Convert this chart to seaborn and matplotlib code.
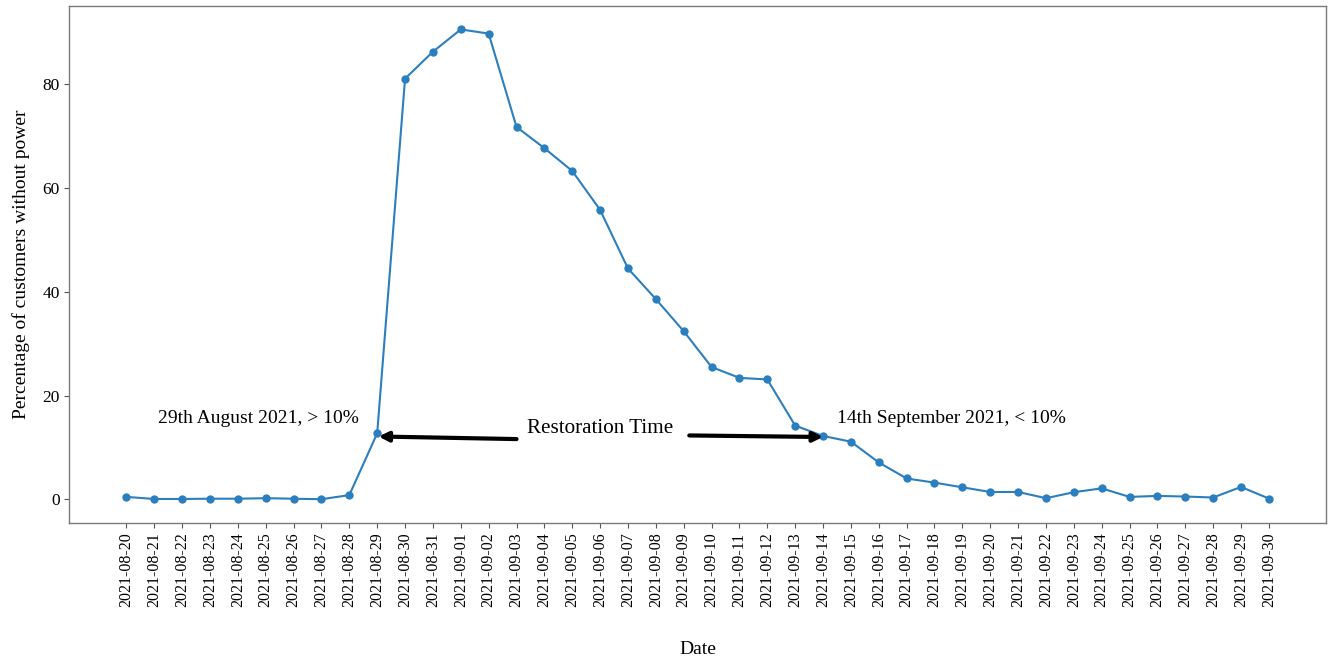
import pandas as pd
import matplotlib.pyplot as plt
import seaborn as sns

# Daily share of customers without power
dates = pd.date_range("2021-08-20", "2021-09-30").strftime("%Y-%m-%d").tolist()
pct_out = [
    0.45, 0.05, 0.05, 0.1, 0.1, 0.2, 0.1, 0.0, 0.8, 12.7,
    81.1, 86.3, 90.6, 89.8, 71.8, 67.7, 63.3, 55.8, 44.5, 38.6,
    32.4, 25.5, 23.4, 23.1, 14.2, 12.2, 11.1, 7.1, 4.0, 3.2,
    2.3, 1.4, 1.4, 0.2, 1.35, 2.1, 0.45, 0.64, 0.52, 0.33,
    2.37, 0.13,
]

start_label = "29th August 2021, > 10%"
end_label = "14th September 2021, < 10%"
mid_label = "Restoration Time"

df = pd.DataFrame({"Date": dates, "Pct": pct_out})

sns.set_style("ticks")
plt.rcParams["font.family"] = ["Liberation Serif", "DejaVu Serif"]
plt.rcParams["text.color"] = "black"
plt.rcParams["axes.labelcolor"] = "black"
plt.rcParams["xtick.labelcolor"] = "black"
plt.rcParams["ytick.labelcolor"] = "black"

fig = plt.figure(figsize=(13.32, 6.6), dpi=100)
ax = fig.add_axes([0.052, 0.208, 0.9435, 0.783])

sns.lineplot(data=df, x="Date", y="Pct", marker="o", color="#2b7fbf",
             linewidth=1.5, markersize=6, markeredgewidth=0, ax=ax)

ax.set_xlabel("Date", fontsize=14, labelpad=24)
ax.set_ylabel("Percentage of customers without power", fontsize=14, labelpad=9)
ax.tick_params(axis="x", labelrotation=90, labelsize=11.5, color="#555555")
ax.tick_params(axis="y", labelsize=12.5, color="#555555")
for s in ax.spines.values():
    s.set_color("#7a7a7a")
    s.set_linewidth(1.0)

# annotations
ax.text(1.15, 15.6, start_label, fontsize=14, va="center", ha="left")
ax.text(25.5, 15.6, end_label, fontsize=14, va="center", ha="left")
ax.text(17.0, 13.6, mid_label, fontsize=15.2, va="center", ha="center")
arrow_kw = dict(arrowstyle="-|>", color="black", lw=3, mutation_scale=14,
                shrinkA=0, shrinkB=0)
ax.annotate("", xy=(9.05, 12.1), xytext=(14.0, 11.6), arrowprops=arrow_kw)
ax.annotate("", xy=(25.0, 12.0), xytext=(20.2, 12.3), arrowprops=arrow_kw)

fig.savefig("out.png", dpi=100)
plt.close()
